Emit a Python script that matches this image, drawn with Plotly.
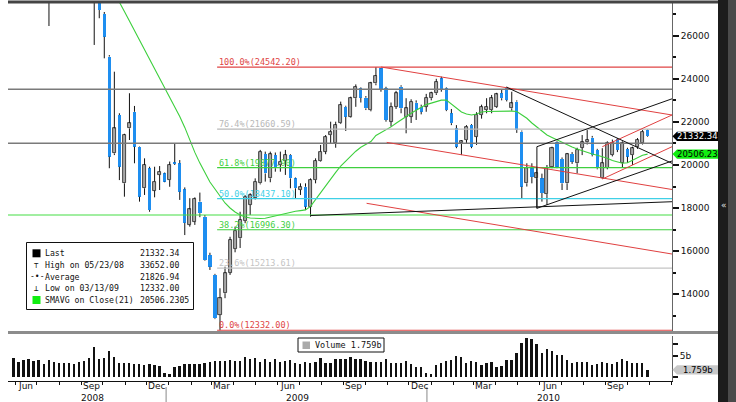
import plotly.graph_objects as go
import pandas as pd

W, H = 736, 402
ML, MR, MT, MB = 8, 64, 3, 21
PW, PH = W - ML - MR, H - MT - MB


def px(x):
    return (x - ML) / PW


def py(y):
    return (H - MB - y) / PH


# ---------------- data ----------------
week_dates = pd.date_range("2008-05-30", periods=127, freq="7D")  # weekly bars (Fri)

volume_b = [
    4.45, 3.67, 4.06, 4.22, 3.91, 4.06, 3.05, 4.06, 3.52, 3.44,
    3.44, 3.28, 3.05, 3.67, 3.91, 4.45, 7.19, 4.22, 4.61, 6.17,
    4.84, 3.44, 3.44, 3.28, 3.05, 3.05, 2.89, 3.05, 2.89, 2.66,
    0.94, 0.70, 2.34, 2.73, 3.05, 3.05, 3.20, 3.20, 3.28, 3.52,
    3.91, 3.91, 3.91, 4.06, 3.83, 3.91, 4.69, 4.22, 4.45, 3.67,
    4.22, 3.52, 4.22, 3.52, 3.83, 4.06, 3.44, 3.13, 3.52, 3.44,
    3.59, 4.45, 3.28, 3.44, 4.22, 4.22, 4.22, 4.84, 4.22, 4.38,
    3.83, 3.52, 3.52, 3.52, 4.22, 3.44, 3.44, 3.44, 3.83, 3.13,
    2.50, 2.50, 1.09, 0.78, 2.89, 3.28, 3.91, 4.06, 5.08, 4.84,
    3.28, 3.83, 3.67, 2.89, 3.44, 3.52, 2.50, 2.66, 4.06, 4.06,
    5.63, 7.97, 9.14, 8.91, 7.73, 5.63, 6.64, 6.25, 5.23, 5.23,
    4.06, 3.44, 3.52, 3.67, 3.52, 2.89, 3.13, 3.52, 3.44, 3.13,
    3.52, 4.22, 3.91, 3.44, 3.28, 3.28, 1.759,
]

candle_dates = week_dates[7:]  # from mid-July 2008; None = off the top of the chart
N8 = [None] * 8
opens = [28400] + N8 + [
    28200, 27900, 27010, 25030, 20540, 22320, 19150, 21700, 22470, 20850,
    18920, 19850, 18810, 19540, 19610, 19300, 20120, 20080, 18870, 17230,
    17370, 18300, 17600, 15820, 14900, 13040, 14050, 15000, 16100, 16600,
    17400, 18150, 18460, 19150, 20510, 19380, 20460, 20000, 20190, 20460,
    19380, 18840, 18990, 18070, 19300, 20190, 20620, 21390, 21010, 21940,
    22700, 22240, 23100, 23560, 23120, 22550, 23790, 24480, 23560, 22010,
    22700, 23630, 22240, 22240, 22890, 22700, 22700, 23100, 23330, 24020,
    23560, 22400, 21700, 21020, 21160, 21860, 21310, 22320, 22550, 22550,
    22700, 23330, 23560, 22630, 22940, 21550, 19150, 19850, 19380, 19380,
    18650, 19920, 21050, 20280, 19150, 20510, 20080, 20800, 21050, 21270,
    20700, 19380, 19860, 20460, 21190, 20100, 20740, 20460, 20850, 21010,
    21620,
]
highs = [28900] + N8 + [
    28600, 28100, 27100, 25100, 24330, 22400, 21450, 23330, 22740, 20870,
    20310, 19920, 19920, 19950, 19650, 20160, 21010, 20230, 18960, 18460,
    18500, 18720, 17680, 15930, 14950, 14280, 15280, 16670, 17140, 17830,
    18600, 18690, 19380, 20700, 20620, 20620, 20580, 20620, 20700, 20500,
    19420, 19150, 19150, 19380, 20310, 20930, 21390, 22010, 22010, 22940,
    22750, 23170, 23740, 23600, 23200, 23860, 24542.2, 24500, 23630, 22900,
    23440, 23700, 23100, 23050, 23000, 22800, 23300, 23400, 24000, 24100,
    23600, 22600, 21850, 21150, 21850, 21900, 22450, 22800, 23100, 23250,
    23350, 23480, 23633, 23400, 23000, 21600, 20080, 20080, 19850, 19600,
    20000, 20850, 21100, 20350, 20560, 20600, 20800, 21390, 21620, 21350,
    20750, 20780, 21100, 21180, 21250, 21100, 20800, 20850, 21250, 21620,
    21650,
]
lows = [26450] + N8 + [
    25570, 26810, 24950, 19850, 20460, 19300, 18530, 21160, 20080, 18300,
    18610, 17830, 18500, 18840, 19200, 18990, 20000, 18380, 16750, 17140,
    17220, 17580, 15560, 15130, 12850, 12332, 13820, 14900, 15950, 16150,
    17300, 17680, 18400, 19100, 19230, 19200, 19690, 19690, 19540, 18920,
    18460, 18610, 17910, 17600, 19150, 20160, 20500, 21010, 20800, 21900,
    21580, 22200, 22700, 22900, 22550, 22490, 23700, 23400, 22010, 21780,
    22600, 22400, 21470, 21950, 22090, 22350, 22470, 23000, 23250, 23400,
    22500, 21850, 20780, 20460, 21000, 20780, 20930, 22150, 22400, 22400,
    22650, 23000, 22950, 22520, 21490, 18460, 19000, 19150, 17990, 18300,
    18150, 19850, 19850, 18840, 18840, 20050, 19610, 20460, 20950, 20400,
    19800, 19350, 19800, 20400, 20600, 19900, 20100, 20000, 20750, 20950,
    21300,
]
closes = [28100] + N8 + [
    27900, 27190, 25950, 20390, 21700, 19920, 21390, 21940, 20850, 18530,
    20000, 17910, 19230, 19690, 19230, 20000, 20050, 18760, 17320, 17940,
    18420, 17760, 15590, 15280, 12890, 13820, 14980, 16520, 16960, 17450,
    18530, 18600, 19230, 20620, 19610, 20500, 19850, 20160, 20460, 19380,
    18920, 18990, 18070, 19300, 20190, 20620, 21310, 21550, 21860, 22780,
    22240, 23100, 23630, 23120, 22630, 23790, 24130, 23480, 22090, 22700,
    23330, 22630, 22630, 22940, 22550, 22470, 23120, 23330, 23860, 23480,
    22550, 21940, 20850, 21100, 21780, 20850, 22320, 22700, 22700, 23100,
    23280, 23100, 23020, 22860, 21620, 19000, 19850, 19450, 19610, 18700,
    19850, 20780, 19920, 19150, 20500, 20160, 20700, 21050, 21160, 20460,
    19850, 20080, 21010, 21040, 20700, 21010, 20390, 20780, 21160, 21550,
    21332.34,
]

sma_dates = week_dates[20:]
sma21 = [
    27995, 27517, 27118, 26677, 26236, 25795, 25355, 24909, 24487, 24060,
    23633, 23197, 22756, 22250, 21745, 21141, 20585, 20088, 19624, 19211,
    18886, 18562, 18237, 18005, 17819, 17680, 17587, 17541, 17518, 17518,
    17527, 17583, 17634, 17680, 17745, 17815, 17856, 17884, 17917, 18079,
    18404, 18729, 19040, 19346, 19657, 19954, 20186, 20418, 20640, 20821,
    20942, 21090, 21369, 21494, 21624, 21768, 21935, 22097, 22260, 22399,
    22538, 22677, 22803, 22872, 22942, 23011, 23016, 22830, 22645, 22459,
    22366, 22320, 22366, 22459, 22480, 22490, 22495, 22500, 22501, 22501,
    22482, 22343, 22167, 21949, 21763, 21578, 21392, 21276, 21160, 21044,
    20928, 20835, 20742, 20659, 20580, 20510, 20450, 20385, 20311, 20209,
    20139, 20084, 20102, 20209, 20348, 20450, 20506.23,
]

legend_rows = [
    ("Last", "21332.34"),
    ("High on 05/23/08", "33652.00"),
    ("Average", "21826.94"),
    ("Low on 03/13/09", "12332.00"),
    ("SMAVG on Close(21)", "20506.2305"),
]
last_close = 21332.34
sma_last = 20506.23
last_volume = 1.759

fib_high, fib_low = 24542.20, 12332.00
fib_ratios = [1.0, 0.764, 0.618, 0.5, 0.382, 0.236, 0.0]
fib_colors = ["#e04545", "#b8b8b8", "#3fcf3f", "#3fd0e6", "#3fcf3f", "#c4c4c4", "#e04545"]
fib_start = "2009-03-09"

gray_levels = [23510, 21005]
green_level = 17680

RED, BLK = "#e04040", "#111111"
trend_lines = [
    ("2009-10-23", 24547, "2010-12-02", 22320, RED),
    ("2009-10-31", 21049, "2010-12-02", 18863, RED),
    ("2009-10-03", 18223, "2010-12-02", 15870, RED),
    ("2010-08-27", 20849, "2010-12-02", 22320, RED),
    ("2010-08-27", 19350, "2010-12-02", 20849, RED),
    ("2009-07-17", 17657, "2010-12-02", 18297, BLK),
    ("2010-04-16", 23605, "2010-12-02", 20079, BLK),
    ("2010-05-28", 20849, "2010-12-02", 23072, BLK),
    ("2010-05-28", 17991, "2010-12-02", 20186, BLK),
    ("2010-05-28", 17991, "2010-05-28", 20849, BLK),
]

month_ticks = ["2008-06-15", "2008-09-15", "2008-12-15", "2009-03-15", "2009-06-15",
               "2009-09-15", "2009-12-15", "2010-03-15", "2010-06-15", "2010-09-15"]
month_text = ["Jun", "Sep", "Dec", "Mar", "Jun", "Sep", "Dec", "Mar", "Jun", "Sep"]
month_starts = list(pd.date_range("2008-06-01", "2010-12-01", freq="MS"))
years = [("2008", 92), ("2009", 297), ("2010", 548)]
year_breaks = ["2008-12-28", "2009-12-26"]

x_range = ["2008-05-22", "2010-12-02"]
price_range = [12298, 27517]
vol_range = [-0.87, 9.69]

# ---------------- figure ----------------
DAY = 86400000
fig = go.Figure()

up_x, up_b, up_h, dn_x, dn_b, dn_h, wx, wy = [], [], [], [], [], [], [], []
for d, o, h, l, c in zip(candle_dates, opens, highs, lows, closes):
    if o is None:
        continue
    lo_b, hi_b = min(o, c), max(o, c)
    if c >= o:
        up_x.append(d); up_b.append(lo_b); up_h.append(hi_b - lo_b)
    else:
        dn_x.append(d); dn_b.append(lo_b); dn_h.append(hi_b - lo_b)
    wx += [d, d, None, d, d, None]
    wy += [hi_b, h, None, l, lo_b, None]

fig.add_trace(go.Scatter(x=wx, y=wy, mode="lines", line=dict(color="#111", width=1),
                         xaxis="x", yaxis="y", hoverinfo="skip"))
fig.add_trace(go.Bar(x=up_x, y=up_h, base=up_b, width=4.2 * DAY,
                     marker=dict(color="#a8a8a8", line=dict(color="#222", width=0.8)),
                     xaxis="x", yaxis="y"))
fig.add_trace(go.Bar(x=dn_x, y=dn_h, base=dn_b, width=4.6 * DAY,
                     marker=dict(color="#1e8ef0", line=dict(color="#1e8ef0", width=0)),
                     xaxis="x", yaxis="y"))
fig.add_trace(go.Scatter(x=sma_dates, y=sma21, mode="lines",
                         line=dict(color="#3ccf3c", width=1.1), xaxis="x", yaxis="y"))
fig.add_trace(go.Bar(x=week_dates, y=volume_b, width=2.6 * DAY,
                     marker=dict(color="#111", line=dict(width=0)), xaxis="x2", yaxis="y2"))

shapes, annos = [], []
mono = "DejaVu Sans Mono"


def note(x, y, text, size=8.2, color="#111", family=mono, xanchor="center", **kw):
    d = dict(xref="paper", yref="paper", x=x, y=y, text=text, showarrow=False,
             xanchor=xanchor, yanchor="middle", font=dict(family=family, size=size, color=color))
    d.update(kw)
    return d


for lvl in gray_levels:
    shapes.append(dict(type="line", xref="x", yref="y", x0=x_range[0], x1=x_range[1],
                       y0=lvl, y1=lvl, line=dict(color="#7a7a7a", width=1.5)))
shapes.append(dict(type="line", xref="x", yref="y", x0=x_range[0], x1=x_range[1],
                   y0=green_level, y1=green_level, line=dict(color="#44dd44", width=1.2)))

for r, col in zip(fib_ratios, fib_colors):
    lvl = fib_low + r * (fib_high - fib_low)
    shapes.append(dict(type="line", xref="x", yref="y", x0=fib_start, x1=x_range[1],
                       y0=lvl, y1=lvl, line=dict(color=col, width=1.2)))
    annos.append(dict(xref="x", yref="y", x=fib_start, y=lvl, xanchor="left", yanchor="bottom",
                      yshift=-2, text="%.1f%%(%.2f)" % (r * 100, lvl), showarrow=False,
                      font=dict(family=mono, size=8.5, color=col)))

for d0, p0, d1, p1, col in trend_lines:
    shapes.append(dict(type="line", xref="x", yref="y", x0=d0, y0=p0, x1=d1, y1=p1,
                       line=dict(color=col, width=1)))

# frame pieces
shapes += [
    dict(type="line", xref="paper", yref="paper", x0=px(8), x1=px(720), y0=py(2), y1=py(2),
         line=dict(color="#444", width=3)),
    dict(type="line", xref="paper", yref="paper", x0=px(8), x1=px(718), y0=py(332.5), y1=py(332.5),
         line=dict(color="#8c8c8c", width=3)),
    dict(type="rect", xref="paper", yref="paper", x0=px(718), x1=px(737), y0=py(403), y1=py(-1),
         fillcolor="#1c1c1c", line=dict(width=0)),
    dict(type="rect", xref="paper", yref="paper", x0=px(728), x1=px(737), y0=py(403), y1=py(-1),
         fillcolor="#4a4a4a", line=dict(width=0)),
]
annos.append(note(px(724), py(205), "«", size=9, color="#e0e0e0", family="DejaVu Sans"))

# x-axis labels: months at mid-month, years centred in their segment
for xb in year_breaks:
    shapes.append(dict(type="line", xref="x2", yref="paper", x0=xb, x1=xb, y0=py(387), y1=py(402),
                       line=dict(color="#888", width=1)))
for d, t in zip(month_ticks, month_text):
    annos.append(dict(xref="x2", yref="paper", x=d, y=py(386), text=t, showarrow=False,
                      xanchor="center", yanchor="middle",
                      font=dict(family="DejaVu Sans", size=9, color="#111")))
for txt, xc in years:
    annos.append(note(px(xc), py(397.5), txt, size=9, family="DejaVu Sans"))

# legend box (price)
shapes.append(dict(type="rect", xref="paper", yref="paper", x0=px(26.5), x1=px(193.5),
                   y0=py(309.5), y1=py(242.5), fillcolor="white", line=dict(color="#111", width=1)))
row_y = [253.3, 265, 276.7, 288.3, 300]
shapes.append(dict(type="rect", xref="paper", yref="paper", x0=px(32.5), x1=px(40.5),
                   y0=py(257.3), y1=py(249.3), fillcolor="#000", line=dict(width=0)))
shapes.append(dict(type="rect", xref="paper", yref="paper", x0=px(32.5), x1=px(40.5),
                   y0=py(304), y1=py(296), fillcolor="#11ee11", line=dict(width=0)))
symbols = [None, "⊤", "-•-", "⊥", None]
for (lab, val), yy, sym in zip(legend_rows, row_y, symbols):
    annos.append(note(px(43), py(yy), lab, xanchor="left"))
    annos.append(note(px(138), py(yy), val, xanchor="left"))
    if sym:
        annos.append(note(px(36.5), py(yy), sym, size=8))

# volume legend box
shapes.append(dict(type="rect", xref="paper", yref="paper", x0=px(298), x1=px(384),
                   y0=py(352), y1=py(338), fillcolor="white", line=dict(color="#111", width=1)))
shapes.append(dict(type="rect", xref="paper", yref="paper", x0=px(302.5), x1=px(310),
                   y0=py(349), y1=py(341.5), fillcolor="#aaaaaa", line=dict(width=0)))
annos.append(note(px(312.5), py(345.3), "Volume %.3fb" % last_volume, size=8.5, xanchor="left"))

# value badges on the right axis
dom_p = [py(331), 1.0]
dom_v = [0.0, py(336)]


def to_paper(v, rng, dom):
    return dom[0] + (v - rng[0]) / (rng[1] - rng[0]) * (dom[1] - dom[0])


for val, txt, bg, fc, rng, dom in [
    (last_close, "%.2f" % last_close, "#000000", "#ffffff", price_range, dom_p),
    (sma_last, "%.2f" % sma_last, "#11ee11", "#000000", price_range, dom_p),
    (last_volume, "%.3fb" % last_volume, "#c8c8c8", "#000000", vol_range, dom_v),
]:
    yc = to_paper(val, rng, dom)
    hh = 4.6 / PH
    shapes.append(dict(type="path", xref="paper", yref="paper",
                       path="M %f %f L %f %f L %f %f L %f %f L %f %f Z" % (
                           px(672.5), yc, px(677), yc + hh, px(718), yc + hh,
                           px(718), yc - hh, px(677), yc - hh),
                       fillcolor=bg, line=dict(width=0)))
    annos.append(note(px(697.5), yc, txt, size=8.5, color=fc, family="DejaVu Sans"))

axis_font = dict(family="DejaVu Sans", size=9, color="#111")
fig.update_layout(
    width=W, height=H, margin=dict(l=ML, r=MR, t=MT, b=MB),
    plot_bgcolor="white", paper_bgcolor="white", showlegend=False,
    barmode="overlay", bargap=0,
    font=dict(family="DejaVu Sans", size=9, color="#111"),
    xaxis=dict(domain=[0, 1], anchor="y", range=x_range, type="date", showticklabels=False,
               showgrid=False, zeroline=False, showline=False, ticks=""),
    yaxis=dict(domain=dom_p, anchor="x", range=price_range, side="right", tick0=0, dtick=2000,
               tickformat="d",
               ticks="outside", ticklen=6, tickwidth=2, tickcolor="#111", showgrid=False,
               zeroline=False, showline=True, linecolor="#666", linewidth=1, tickfont=axis_font,
               minor=dict(tick0=0, dtick=1000, ticks="outside", ticklen=3, tickcolor="#111",
                          showgrid=False)),
    xaxis2=dict(domain=[0, 1], anchor="y2", range=x_range, type="date", tickmode="array",
                tickvals=month_starts, showticklabels=False, ticks="outside", ticklen=3,
                tickcolor="#111", showgrid=False,
                zeroline=False, showline=True, linecolor="#111", linewidth=1),
    yaxis2=dict(domain=dom_v, anchor="x2", range=vol_range, side="right", tickmode="array",
                tickvals=[0, 5, 7.8], ticktext=["", "5b", ""], ticks="outside", ticklen=5,
                tickwidth=1.5, tickcolor="#111", showgrid=False, zeroline=False, showline=True,
                linecolor="#666", linewidth=1, tickfont=axis_font),
    shapes=shapes, annotations=annos,
)

fig.write_html("out.html", include_plotlyjs=True, config={"displayModeBar": False})
